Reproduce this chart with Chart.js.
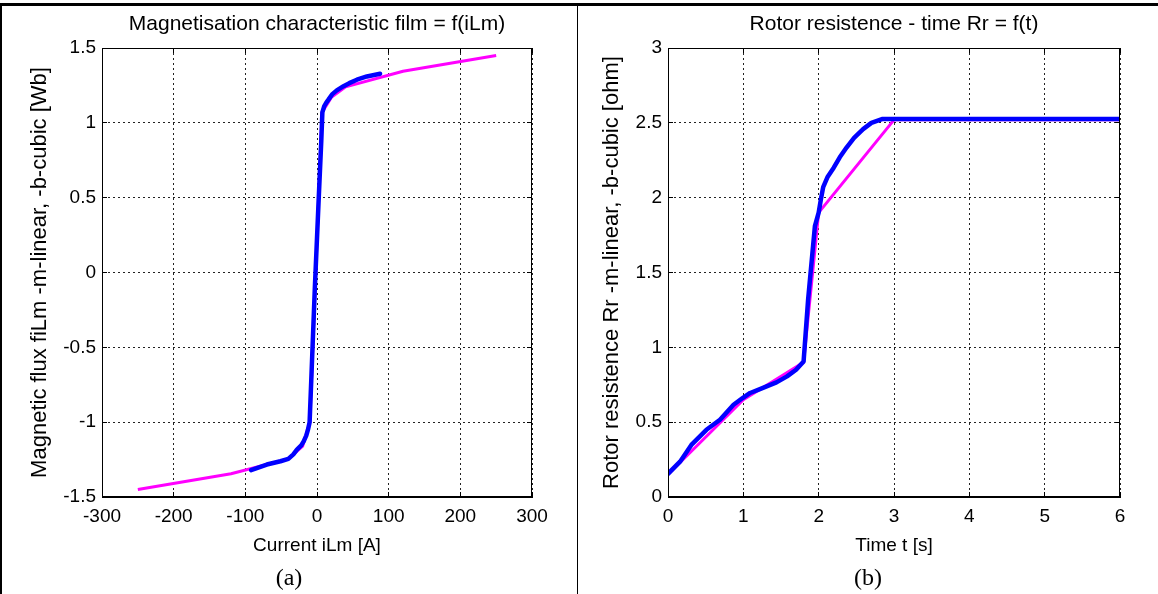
<!DOCTYPE html>
<html>
<head>
<meta charset="utf-8">
<script src="https://cdn.jsdelivr.net/npm/chart.js@4"></script>
<style>
  html, body { margin: 0; padding: 0; background: #fff; }
  body { width: 1158px; height: 594px; position: relative; overflow: hidden; }
  canvas { position: absolute; top: 0; }
  #ca { left: 0; }
  #cb { left: 578px; }
  .rule { position: absolute; background: #000; }
</style>
</head>
<body>
<div class="rule" style="left:0;top:3px;width:1158px;height:3px"></div>
<div class="rule" style="left:0;top:3px;width:2px;height:591px"></div>
<div class="rule" style="left:577px;top:3px;width:1px;height:591px"></div>
<canvas id="ca" width="578" height="594"></canvas>
<canvas id="cb" width="580" height="594"></canvas>
<script>
// ===== DATA (a): magnetisation characteristic =====
const magLinI = [-250, -120, -40, -20, -10, 7, 20, 40, 120, 250];
const magLinF = [-1.45, -1.345, -1.245, -1.16, -1.0, 1.07, 1.17, 1.24, 1.345, 1.45];
const magCubI = [-92, -70, -51, -40, -33, -28, -22, -18.6, -15, -12.6, -10.3, -8, -3, 2.3, 6, 7.5, 10, 13, 16, 21, 27.6, 37, 45, 55.7, 69.6, 88];
const magCubF = [-1.32, -1.283, -1.261, -1.245, -1.215, -1.183, -1.155, -1.128, -1.09, -1.05, -1.0, -0.72, -0.1, 0.483, 0.883, 1.07, 1.11, 1.135, 1.155, 1.19, 1.217, 1.245, 1.265, 1.288, 1.31, 1.328];
const magXTicks = [-300, -200, -100, 0, 100, 200, 300];
const magYTicks = [-1.5, -1, -0.5, 0, 0.5, 1, 1.5];

// ===== DATA (b): rotor resistance vs time =====
const rotLinT = [0, 1, 1.8, 2, 3, 6];
const rotLinR = [0.15, 0.65, 0.9, 1.9, 2.52, 2.52];
const rotCubT = [0, 0.16, 0.31, 0.51, 0.69, 0.87, 0.99, 1.09, 1.22, 1.44, 1.58, 1.7, 1.8, 1.86, 1.95, 2.0, 2.03, 2.06, 2.12, 2.2, 2.28, 2.37, 2.47, 2.59, 2.7, 2.84, 3, 4, 5, 6];
const rotCubR = [0.155, 0.236, 0.348, 0.449, 0.516, 0.616, 0.661, 0.695, 0.721, 0.766, 0.806, 0.85, 0.906, 1.32, 1.81, 1.9, 1.99, 2.07, 2.14, 2.2, 2.27, 2.335, 2.4, 2.458, 2.5, 2.525, 2.525, 2.525, 2.525, 2.525];
const rotXTicks = [0, 1, 2, 3, 4, 5, 6];
const rotYTicks = [0, 0.5, 1, 1.5, 2, 2.5, 3];

Chart.defaults.font.family = "'Liberation Sans', Arial, sans-serif";
Chart.defaults.font.size = 19;
Chart.defaults.color = "#000";
Chart.defaults.devicePixelRatio = 1;

const toPts = (xs, ys) => xs.map((x, i) => ({ x, y: ys[i] }));

// frame + texts around the axes
function decor(t) {
  return {
    id: "decor",
    afterDraw(chart) {
      const { ctx, chartArea: a } = chart;
      const cx = (a.left + a.right) / 2;
      ctx.save();
      ctx.strokeStyle = "#000";
      ctx.lineWidth = 1;
      ctx.strokeRect(a.left + 0.5, a.top + 0.5, a.right - a.left - 1, a.bottom - a.top - 1);
      ctx.fillStyle = "#000";
      ctx.textAlign = "center";
      ctx.textBaseline = "middle";
      ctx.font = "21px 'Liberation Sans', Arial, sans-serif";
      ctx.fillText(t.title, cx, 24);
      ctx.font = "19px 'Liberation Sans', Arial, sans-serif";
      ctx.fillText(t.xlabel, cx, 546);
      ctx.save();
      ctx.translate(t.ylabelX, (a.top + a.bottom) / 2);
      ctx.rotate(-Math.PI / 2);
      ctx.font = "22px 'Liberation Sans', Arial, sans-serif";
      ctx.fillText(t.ylabel, 0, 0);
      ctx.restore();
      ctx.font = "24px 'Liberation Serif', 'Times New Roman', serif";
      ctx.fillText(t.caption, chart.width / 2, 579);
      ctx.restore();
    }
  };
}

// one axis; MATLAB style: dotted grid, short inward tick marks
function axis(ticks, pos, main, fit) {
  return {
    position: pos,
    display: true,
    min: ticks[0], max: ticks[ticks.length - 1],
    afterBuildTicks: s => { s.ticks = ticks.map(v => ({ value: v })); },
    afterFit: fit,
    ticks: { display: main, padding: pos === "bottom" ? 13 : 11, maxRotation: 0, callback: v => String(v) },
    grid: { display: true, drawOnChartArea: main, color: "#222", lineWidth: 1,
            drawTicks: true, tickLength: -5, tickColor: "#000", tickWidth: 1 },
    border: { display: main, color: "#000", width: 1, dash: [2, 3] }
  };
}

function makeChart(id, cfg) {
  return new Chart(document.getElementById(id), {
    type: "scatter",
    data: {
      datasets: [
        { label: "cubic", data: toPts(cfg.cubX, cfg.cubY), showLine: true, borderColor: "#0000ff",
          borderWidth: 4.5, pointRadius: 0, borderJoinStyle: "round", borderCapStyle: "round" },
        { label: "linear", data: toPts(cfg.linX, cfg.linY), showLine: true, borderColor: "#ff00ff",
          borderWidth: 3, pointRadius: 0, borderJoinStyle: "round" }
      ]
    },
    options: {
      responsive: false,
      animation: false,
      layout: { padding: { top: 48, right: cfg.padRight, left: 0, bottom: 0 } },
      plugins: { legend: { display: false }, tooltip: { enabled: false } },
      scales: {
        x: axis(cfg.xTicks, "bottom", true, s => { s.height = 97; }),
        y: axis(cfg.yTicks, "left", true, s => { s.width = cfg.yWidth; }),
        x2: axis(cfg.xTicks, "top", false, s => { s.height = 0; }),
        y2: axis(cfg.yTicks, "right", false, s => { s.width = 0; })
      }
    },
    plugins: [decor(cfg.text)]
  });
}

makeChart("ca", {
  cubX: magCubI, cubY: magCubF, linX: magLinI, linY: magLinF,
  xTicks: magXTicks, yTicks: magYTicks, yWidth: 102, padRight: 46,
  text: { title: "Magnetisation characteristic film = f(iLm)", xlabel: "Current iLm [A]",
          ylabel: "Magnetic flux fiLm -m-linear, -b-cubic [Wb]", ylabelX: 40, caption: "(a)" }
});

makeChart("cb", {
  cubX: rotCubT, cubY: rotCubR, linX: rotLinT, linY: rotLinR,
  xTicks: rotXTicks, yTicks: rotYTicks, yWidth: 90, padRight: 38,
  text: { title: "Rotor resistence - time Rr = f(t)", xlabel: "Time t [s]",
          ylabel: "Rotor resistence Rr -m-linear, -b-cubic [ohm]", ylabelX: 34, caption: "(b)" }
});
</script>
</body>
</html>
